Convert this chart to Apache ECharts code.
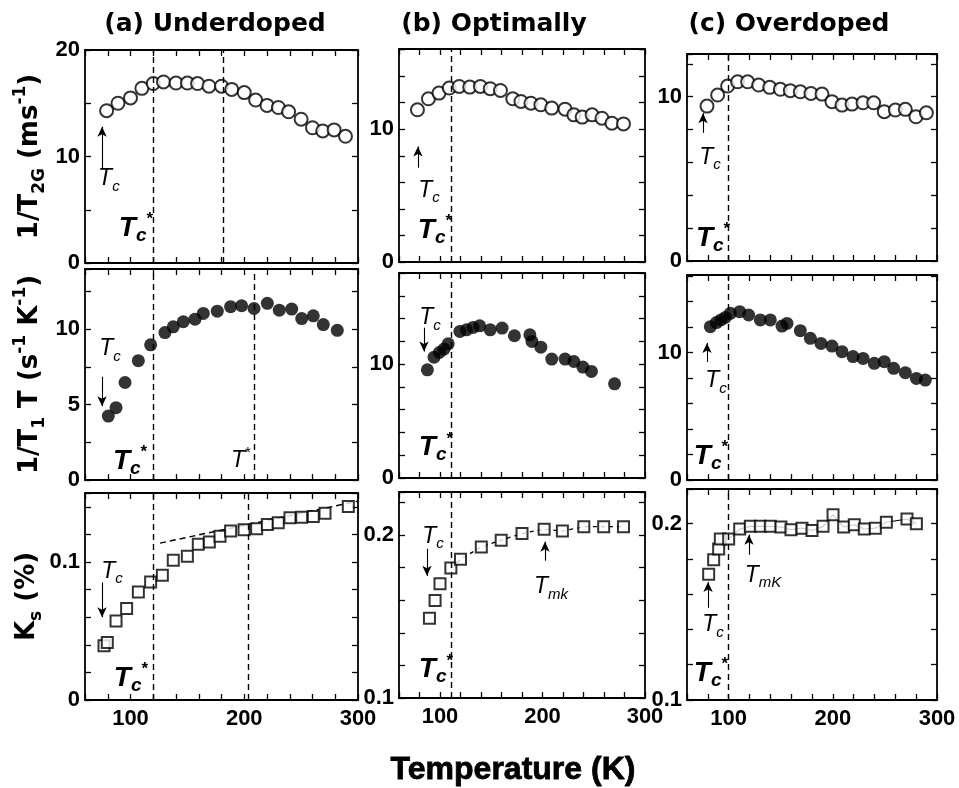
<!DOCTYPE html>
<html>
<head>
<meta charset="utf-8">
<script src="https://cdn.jsdelivr.net/npm/echarts@6/dist/echarts.min.js"></script>
<style>
html, body { margin: 0; padding: 0; background: #fff; }
#chart { width: 959px; height: 788px; }
</style>
</head>
<body>
<div id="chart"></div>
<script>
// ---- data (temperature in K) ----
// (a) underdoped
const underT2G_T = [79, 89, 100, 110, 120, 129, 140, 150, 159, 169, 180, 189, 200, 210, 220, 230, 239, 250, 260, 269, 279, 289];
const underT2G = [14.3, 15.0, 15.5, 16.4, 16.85, 17.0, 16.9, 16.9, 16.85, 16.6, 16.6, 16.3, 16.0, 15.3, 14.8, 14.6, 14.2, 13.5, 12.7, 12.4, 12.5, 11.9];
const underT1T_T = [80.5, 87.3, 95.2, 106.9, 117.7, 130.3, 137.6, 146.4, 156.7, 164, 176.3, 188, 197.7, 208.6, 220.3, 230.8, 241.7, 250.5, 260.7, 269.5, 281.8];
const underT1T = [4.24, 4.8, 6.47, 7.92, 8.97, 9.78, 10.16, 10.5, 10.67, 11.05, 11.2, 11.5, 11.56, 11.38, 11.72, 11.27, 11.34, 10.71, 10.89, 10.31, 9.93];
const underKs_T = [76.7, 79.6, 87.3, 96.6, 106.9, 117.7, 128, 137.6, 150, 159.6, 169.3, 178.7, 188, 199.8, 210.9, 220.3, 229.9, 240.2, 250.5, 260.7, 271, 291.5];
const underKs = [0.0393, 0.0417, 0.0573, 0.0663, 0.0783, 0.0855, 0.0904, 0.1012, 0.1041, 0.1128, 0.1145, 0.1186, 0.1224, 0.1234, 0.1241, 0.1272, 0.1284, 0.132, 0.1325, 0.133, 0.1354, 0.1402];
const underFit_T = [126, 300];
const underFit = [0.1137, 0.1441];

// (b) optimally doped
const optT2G_T = [78, 88.7, 99, 109, 118.7, 129, 139.4, 149, 159, 171, 179, 188.7, 198.4, 209, 222, 230.6, 238.7, 248.4, 258, 267.7, 279];
const optT2G = [11.46, 12.29, 12.72, 13.1, 13.22, 13.17, 13.22, 13.05, 12.92, 12.29, 12.09, 11.96, 11.84, 11.59, 11.51, 11.08, 10.91, 11.08, 10.83, 10.45, 10.4];
const optT1T_T = [87.7, 94.2, 99.4, 103.9, 108, 119.4, 125.8, 132.3, 138.7, 149, 160.6, 172.6, 187.7, 189.7, 198.4, 209, 222, 230.6, 239.4, 247.7, 270.3];
const optT1T = [9.5, 10.61, 11.02, 11.32, 11.78, 12.87, 13.01, 13.22, 13.36, 13.01, 13.16, 12.49, 12.57, 11.99, 11.49, 10.44, 10.44, 10.23, 9.74, 9.36, 8.27];
const optKs_T = [89.7, 95.2, 100, 110.6, 120, 140.3, 159.7, 180, 201.6, 219.4, 240.3, 259.7, 279];
const optKs = [0.1489, 0.1598, 0.1701, 0.1798, 0.1852, 0.1928, 0.1969, 0.201, 0.2037, 0.2025, 0.2052, 0.2052, 0.2052];

// (c) overdoped
const overT2G_T = [79.2, 89.4, 99, 108.6, 118.2, 128.8, 139.4, 149.6, 159.2, 168.8, 179, 189.6, 199.2, 208.8, 218.4, 229, 239.2, 249.4, 260, 269.6, 279.8, 289.8];
const overT2G = [9.43, 10.1, 10.65, 10.91, 10.91, 10.71, 10.57, 10.45, 10.37, 10.3, 10.2, 10.16, 9.7, 9.49, 9.55, 9.63, 9.63, 9.09, 9.19, 9.23, 8.78, 9.02];
const overT1T_T = [82.4, 88.2, 92.6, 96.8, 101.6, 110.6, 119.2, 130.4, 140, 151.2, 156, 168.8, 178.4, 188.6, 199.2, 208.8, 219.4, 229, 239.8, 249.4, 258.4, 269.6, 280.2, 288.8];
const overT1T = [12.04, 12.36, 12.57, 12.77, 13.09, 13.22, 12.96, 12.57, 12.57, 12.09, 12.3, 11.73, 11.13, 10.73, 10.52, 10.08, 9.69, 9.55, 9.16, 9.29, 8.77, 8.43, 7.98, 7.85];
const overKs_T = [80.8, 85.6, 90.4, 92, 100, 110.6, 120.8, 130.4, 140, 150.2, 159.8, 170.4, 180, 190.6, 200.2, 210.4, 220.6, 230.2, 240.8, 251.4, 271.2, 280.2];
const overKs = [0.1714, 0.1795, 0.1856, 0.1913, 0.1913, 0.197, 0.1985, 0.1985, 0.1985, 0.1981, 0.1966, 0.1975, 0.1962, 0.1985, 0.2051, 0.1981, 0.1994, 0.197, 0.1975, 0.2008, 0.2027, 0.2];

// axis ticks
const xTickLabels = [100, 200, 300];
const titles = ['(a) Underdoped', '(b) Optimally', '(c) Overdoped'];

// characteristic temperatures (dashed verticals)
const tcStar = [120, 110.6, 100];
const tStarUnder = [181.6, 208.6, 203.6];

const BLACK = '#000';
const SANS = '"Liberation Sans", Arial, sans-serif';
const HEAVY = '"DejaVu Sans", sans-serif';

const noteRich = {
  t: { fontFamily: SANS, fontStyle: 'italic', fontSize: 23, lineHeight: 30, color: BLACK },
  s: { fontFamily: SANS, fontStyle: 'italic', fontSize: 15, verticalAlign: 'bottom', color: BLACK },
  tb: { fontFamily: SANS, fontStyle: 'italic', fontWeight: 'bold', fontSize: 28, lineHeight: 34, color: BLACK },
  sb: { fontFamily: SANS, fontStyle: 'italic', fontWeight: 'bold', fontSize: 19, verticalAlign: 'bottom', color: BLACK },
  st: { fontFamily: SANS, fontWeight: 'bold', fontSize: 17, verticalAlign: 'top', color: BLACK },
  st2: { fontFamily: SANS, fontSize: 15, verticalAlign: 'top', color: BLACK }
};
const NOTE = {
  tc: '{t|T}{s|c}',
  tcs: '{tb|T}{sb|c}{st|*}',
  ts: '{t|T}{st2|*}',
  tmk: '{t|T}{s|mk}',
  tmK: '{t|T}{s|mK}'
};

const nameRich = {
  n: { fontFamily: HEAVY, fontWeight: 'bold', fontSize: 26, lineHeight: 36, color: BLACK },
  sub: { fontFamily: HEAVY, fontWeight: 'bold', fontSize: 17, verticalAlign: 'bottom', color: BLACK },
  sup: { fontFamily: HEAVY, fontWeight: 'bold', fontSize: 17, verticalAlign: 'top', color: BLACK }
};

// one entry per panel, row by row
const panels = [
  { box: [85, 50, 273, 213], y: [0, 20, 5], labels: [0, 10, 20], T: underT2G_T, V: underT2G, kind: 'open',
    name: '{n|1/T}{sub|2G}{n| (ms}{sup|-1}{n|)}',
    vlines: [tcStar[0], tStarUnder[0]], arrows: [[75, 8.8, 12.8]], notes: [[81, 7.9, 'tc'], [104.8, 3.3, 'tcs']] },
  { box: [399, 49, 246, 213], y: [0, 16.04, 2], labels: [0, 10], T: optT2G_T, V: optT2G, kind: 'open',
    vlines: [tcStar[1]], arrows: [[78.5, 7.1, 8.7]], notes: [[89.3, 5.4, 'tc'], [95.1, 2.4, 'tcs']] },
  { box: [687, 54, 250, 207], y: [0, 12.6, 2], labels: [0, 10], T: overT2G_T, V: overT2G, kind: 'open',
    vlines: [tcStar[2]], arrows: [[75.4, 7.8, 9.0]], notes: [[82.1, 6.3, 'tc'], [85, 1.4, 'tcs']] },

  { box: [85, 269, 273, 211], y: [0, 14, 2.5], labels: [0, 5, 10], T: underT1T_T, V: underT1T, kind: 'filled',
    name: '{n|1/T}{sub|1}{n| T (s}{sup|-1}{n| K}{sup|-1}{n|)}',
    vlines: [tcStar[0], tStarUnder[1]], arrows: [[75, 6.85, 4.9]],
    notes: [[82, 8.7, 'tc'], [99.6, 1.27, 'tcs'], [197, 1.27, 'ts']] },
  { box: [399, 273, 246, 205], y: [0, 18, 2], labels: [0, 10], T: optT1T_T, V: optT1T, kind: 'filled',
    vlines: [tcStar[1]], arrows: [[84.4, 13.2, 11.1]], notes: [[90.2, 14.06, 'tc'], [96.1, 2.66, 'tcs']] },
  { box: [687, 275, 250, 205], y: [0, 16.1, 2], labels: [0, 10], T: overT1T_T, V: overT1T, kind: 'filled',
    vlines: [tcStar[2]], arrows: [[79.2, 9.27, 10.76]], notes: [[87.8, 7.78, 'tc'], [83, 1.89, 'tcs']] },

  { box: [85, 493, 273, 207], y: [0, 0.15, 0.02], labels: [0, 0.1], T: underKs_T, V: underKs, kind: 'square',
    name: '{n|K}{sub|s}{n| (%)}',
    vlines: [tcStar[0], tStarUnder[2]], arrows: [[75, 0.0853, 0.060]],
    notes: [[83.7, 0.0933, 'tc'], [100.4, 0.0159, 'tcs']],
    extra: { T: underFit_T, V: underFit, type: [6, 4], width: 1.4 } },
  { box: [399, 492, 246, 206], y: [0.1, 0.2265, 0.02], labels: [0.1, 0.2], T: optKs_T, V: optKs, kind: 'square',
    vlines: [tcStar[1]], arrows: [[87.3, 0.1917, 0.175], [202.4, 0.1843, 0.196]],
    notes: [[93.2, 0.199, 'tc'], [96.1, 0.1175, 'tcs'], [208.3, 0.1682, 'tmk']],
    extra: { T: optKs_T.slice(3), V: optKs.slice(3), type: [4, 4], width: 1.3 } },
  { box: [687, 489, 250, 211], y: [0.1, 0.2197, 0.02], labels: [0.1, 0.2], T: overKs_T, V: overKs, kind: 'square',
    vlines: [tcStar[2]], arrows: [[80.2, 0.1523, 0.167], [119.5, 0.1824, 0.1938]],
    notes: [[85, 0.1426, 'tc'], [83, 0.1153, 'tcs'], [133, 0.1705, 'tmK']],
    extra: { T: overKs_T.slice(4), V: overKs.slice(4), type: 'solid', width: 1.1 } }
];

const marker = {
  open: { symbol: 'circle', symbolSize: 13, itemStyle: { color: '#fff', borderColor: BLACK, borderWidth: 2 } },
  filled: { symbol: 'circle', symbolSize: 13, itemStyle: { color: BLACK } },
  square: { symbol: 'rect', symbolSize: 11, itemStyle: { color: '#fff', borderColor: BLACK, borderWidth: 2 } }
};

const axisLine = { show: true, onZero: false, lineStyle: { color: BLACK, width: 1.8 } };
const axisTick = { show: true, inside: true, length: 6, lineStyle: { color: BLACK, width: 1.3 } };
const near = (v, list) => list.some(l => Math.abs(l - v) < 1e-9);

const grid = [], xAxis = [], yAxis = [], series = [];

panels.forEach((p, i) => {
  const row = Math.floor(i / 3);
  grid.push({ left: p.box[0], top: p.box[1], width: p.box[2], height: p.box[3], show: false });

  ['bottom', 'top'].forEach(pos => {
    xAxis.push({
      gridIndex: i, type: 'value', position: pos, min: 60, max: 300, interval: 20,
      axisLine, axisTick, splitLine: { show: false },
      axisLabel: {
        show: pos === 'bottom' && row === 2, margin: 8, color: BLACK,
        fontFamily: SANS, fontSize: 22, fontWeight: 'bold',
        formatter: v => (near(v, xTickLabels) ? String(v) : '')
      }
    });
  });

  ['left', 'right'].forEach(pos => {
    const ax = {
      gridIndex: i, type: 'value', position: pos, min: p.y[0], max: p.y[1], interval: p.y[2],
      axisLine, axisTick, splitLine: { show: false },
      axisLabel: {
        show: pos === 'left', margin: 5, color: BLACK,
        fontFamily: SANS, fontSize: 22, fontWeight: 'bold',
        formatter: v => (near(v, p.labels) ? String(Math.round(v * 1000) / 1000) : '')
      }
    };
    if (pos === 'left' && p.name) {
      Object.assign(ax, {
        name: p.name, nameLocation: 'middle', nameRotate: 90, nameGap: 37,
        nameTextStyle: { rich: nameRich }
      });
    }
    yAxis.push(ax);
  });

  if (p.extra) {
    series.push({
      type: 'line', xAxisIndex: 2 * i, yAxisIndex: 2 * i, z: 2, silent: true,
      data: p.extra.T.map((t, k) => [t, p.extra.V[k]]),
      symbol: 'none', lineStyle: { color: BLACK, width: p.extra.width, type: p.extra.type }
    });
  }

  const m = marker[p.kind];
  series.push({
    type: 'scatter', xAxisIndex: 2 * i, yAxisIndex: 2 * i, z: 3,
    data: p.T.map((t, k) => [t, p.V[k]]),
    symbol: m.symbol, symbolSize: m.symbolSize, itemStyle: m.itemStyle,
    markLine: {
      silent: true, symbol: ['none', 'none'], symbolSize: [7, 10],
      label: { show: false },
      lineStyle: { color: BLACK, width: 1.1, type: 'solid' },
      data: [
        ...p.vlines.map(x => ({ xAxis: x, lineStyle: { color: BLACK, width: 1.4, type: [6, 4] } })),
        ...p.arrows.map(a => [
          { coord: [a[0], a[1]], symbol: 'none' },
          { coord: [a[0], a[2]], symbol: 'arrow', symbolSize: [7, 10] }
        ])
      ]
    },
    markPoint: {
      silent: true, symbol: 'circle', symbolSize: 1,
      itemStyle: { color: 'rgba(0,0,0,0)' },
      label: { show: true, position: 'inside', rich: noteRich },
      data: p.notes.map(n => ({ coord: [n[0], n[1]], label: { formatter: NOTE[n[2]] } }))
    }
  });
});

const titleX = [215, 494, 789];
const graphic = titles.map((t, i) => ({
  type: 'text', x: titleX[i], y: 24,
  style: {
    text: t, fill: BLACK, font: 'bold 25px ' + HEAVY,
    textAlign: 'center', textVerticalAlign: 'middle'
  }
}));
graphic.push({
  type: 'text', x: 513, y: 770,
  style: {
    text: 'Temperature (K)', fill: BLACK, font: 'bold 32px ' + SANS,
    stroke: BLACK, lineWidth: 0.8,
    textAlign: 'center', textVerticalAlign: 'middle'
  }
});

const chart = echarts.init(document.getElementById('chart'));
chart.setOption({
  animation: false,
  backgroundColor: '#fff',
  grid, xAxis, yAxis, series, graphic
});
</script>
</body>
</html>
